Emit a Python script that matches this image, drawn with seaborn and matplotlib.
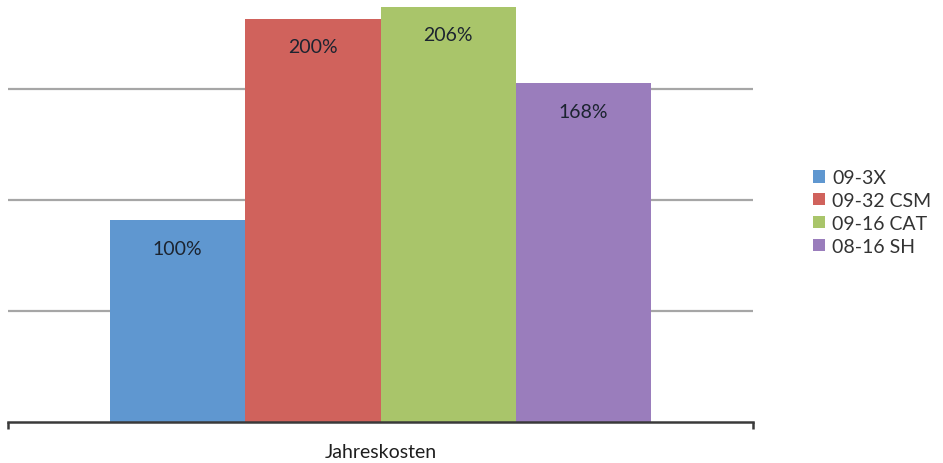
import matplotlib
matplotlib.use("Agg")
import matplotlib.pyplot as plt
import seaborn as sns
import pandas as pd
from matplotlib.patches import Patch

# Annual cost comparison, relative to the 09-3X baseline (in percent)
category = ["Jahreskosten"]
series = ["09-3X", "09-32 CSM", "09-16 CAT", "08-16 SH"]
values = [100, 200, 206, 168]
labels = ["100%", "200%", "206%", "168%"]
colors = ["#5f97d0", "#d0625c", "#a9c56a", "#9a7dbc"]
grid_values = [55, 110, 165]

df = pd.DataFrame({
    "Kategorie": category * len(series),
    "Serie": series,
    "Wert": values,
})

sns.set_theme(style="white")
plt.rcParams["font.family"] = ["Lato", "DejaVu Sans"]

fig = plt.figure(figsize=(9.43, 4.64), dpi=100)
ax = fig.add_axes([8 / 943, 41 / 464, 745 / 943, 423 / 464])

sns.barplot(data=df, x="Kategorie", y="Wert", hue="Serie",
            palette=colors, hue_order=series, width=0.8,
            saturation=1, ax=ax, legend=False, zorder=2)

for bar in ax.patches:
    bar.set_edgecolor("none")

ax.set_ylim(0, 209.8)
ax.set_xlim(-0.551, 0.551)

# horizontal gridlines
for g in grid_values:
    ax.axhline(g, color="#a6a6a6", lw=1.6, zorder=1)

# value labels inside the top of each bar
for bar, lab in zip(ax.patches, labels):
    x = bar.get_x() + bar.get_width() / 2
    ax.annotate(lab, (x, bar.get_height()), xytext=(0, -20),
                textcoords="offset points", ha="center", va="center",
                fontsize=14, color="#1c2430")

for s in ["top", "right", "left"]:
    ax.spines[s].set_visible(False)
ax.spines["bottom"].set_color("#3a3a3a")
ax.spines["bottom"].set_linewidth(1.8)

ax.set_yticks([])
ax.set_ylabel("")
ax.set_xlabel("")
ax.tick_params(axis="x", which="major", bottom=True, length=0, pad=15,
               labelsize=14, labelcolor="#1e1e1e")
ax.set_xticks([-0.5505, 0.5505], minor=True)
ax.tick_params(axis="x", which="minor", bottom=True, length=5, width=1.8,
               color="#3a3a3a", direction="out")

handles = [Patch(facecolor=c, edgecolor="none", label=s)
           for c, s in zip(colors, series)]
fig.legend(handles=handles, loc="center left",
           bbox_to_anchor=(813 / 943, 1 - 213 / 464), frameon=False,
           fontsize=14, labelcolor="#333333", handlelength=0.6,
           handleheight=0.6, handletextpad=0.4, labelspacing=0.3,
           borderaxespad=0, borderpad=0)

fig.savefig("out.png", dpi=100)
